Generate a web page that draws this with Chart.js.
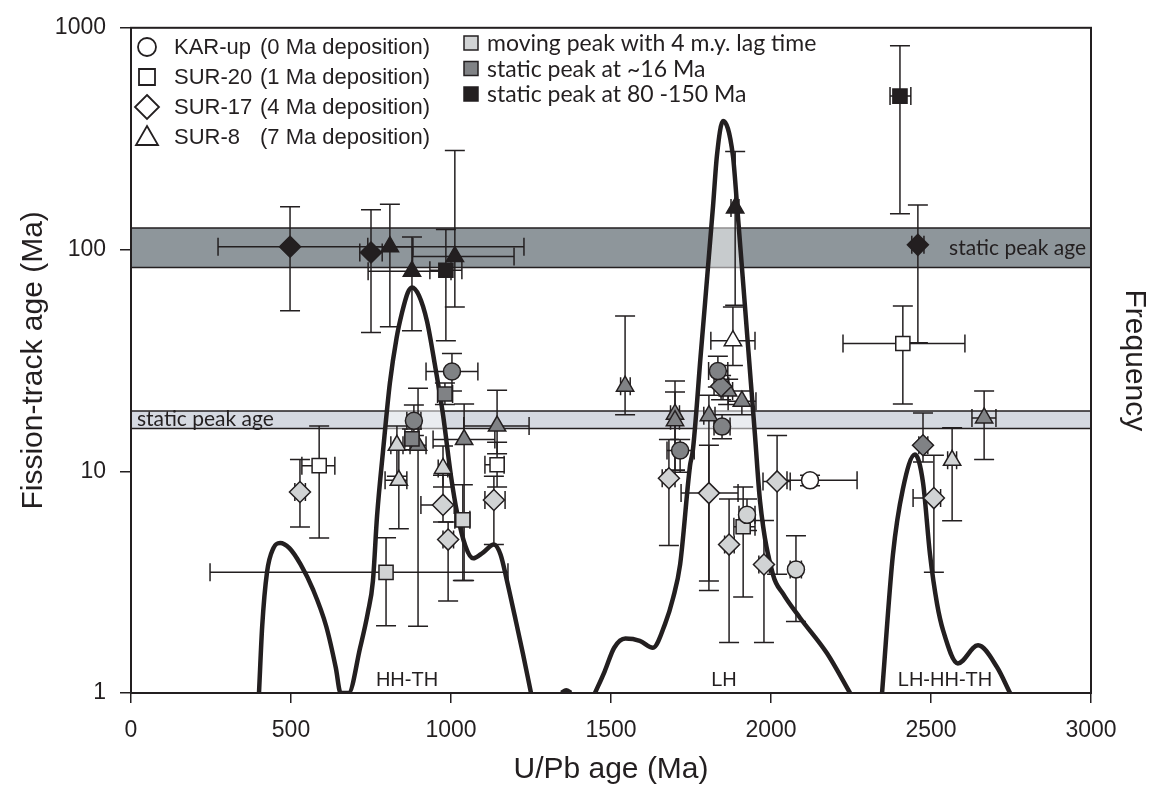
<!DOCTYPE html>
<html>
<head>
<meta charset="utf-8">
<script src="https://cdn.jsdelivr.net/npm/chart.js@4.4.1/dist/chart.umd.min.js"></script>
<style>
  html, body { margin: 0; padding: 0; background: #fff; }
  #wrap { width: 1162px; height: 811px; position: relative; }
</style>
</head>
<body>
<div id="wrap"><canvas id="chart"></canvas></div>
<script>
// ---------------------------------------------
// DATA
// ---------------------------------------------
const xTickLabels = ['0', '500', '1000', '1500', '2000', '2500', '3000'];
const yTicks = [1, 10, 100, 1000];
const yTickLabels = ['1', '10', '100', '1000'];

// static peak bands (fission-track age, Ma)
const bandLight = [15.6, 18.7];
const bandDark = [83, 125];

// U/Pb probability curve, null = gap
const curveAge = [400, 410, 425, 445, 466, 495, 530, 570, 610, 640, 655, 680, 716, 740, 756, 769, 788, 809, 830, 847, 865, 878, 900, 925, 950, 975, 1000, 1019, 1045, 1069, 1100, 1134, 1155, 1175, 1200, 1225, 1250,
  1300,
  1345, 1360, 1375,
  1400,
  1450, 1480, 1510, 1545, 1590, 1631, 1669, 1694, 1716, 1747, 1756, 1780, 1819, 1831, 1850, 1881, 1894, 1930, 1950, 1966, 2006, 2038, 2091, 2175, 2247,
  2300,
  2347, 2381, 2412, 2450, 2475, 2497, 2519, 2538, 2584, 2647, 2706, 2747];
const curveFreq = [1, 2, 3.5, 4.5, 4.75, 4.5, 3.8, 2.9, 2.0, 1.3, 1, 1, 1.6, 2.3, 3.2, 6.3, 12.5, 25, 40, 52, 64, 67.5, 62, 47.5, 30, 18, 9.5, 6.5, 4.6, 4.05, 4.3, 4.67, 4.2, 3.2, 2.2, 1.5, 1,
  null,
  1, 1.03, 1,
  null,
  1, 1.25, 1.6, 1.76, 1.72, 1.6, 2.05, 2.68, 3.8, 10.6, 12.5, 33, 158, 265, 380, 265, 158, 34, 14.5, 7.27, 3.43, 2.8, 2.18, 1.51, 1,
  null,
  1, 4.2, 8.3, 11.9, 8.9, 4.2, 2.52, 1.91, 1.36, 1.64, 1.31, 1];

// rows: [U/Pb age, age lo, age hi, FT age, FT lo, FT hi, group]
// group: 0 none, 1 moving peak, 2 static ~16 Ma, 3 static 80-150 Ma
const karUp = [
  [1003, 922, 1084, 28.2, 23, 34, 2],
  [884, 862, 906, 16.9, 14.5, 19.9, 2],
  [1834, 1805, 1865, 28.3, 24, 33, 2],
  [1847, 1822, 1872, 15.9, 14, 18, 2],
  [1716, 1675, 1760, 12.4, 9.9, 13.9, 2],
  [1925, 1900, 1950, 6.36, 5.4, 7.5, 1],
  [2078, 2060, 2095, 3.61, 2.1, 5.12, 1],
  [2122, 2050, 2269, 9.1, 8.6, 9.6, 0],
];
const sur20 = [
  [984, 934, 1034, 80.6, 38.8, 123, 3],
  [2403, 2372, 2437, 492, 145, 831, 3],
  [981, 958, 1005, 22.3, 20, 25, 2],
  [878, 856, 900, 14.0, 12.5, 15.5, 2],
  [1037, 1012, 1059, 6.04, 3.22, 8.7, 1],
  [797, 247, 1178, 3.5, 2.01, 5.02, 1],
  [1913, 1884, 1950, 5.62, 2.71, 8.5, 1],
  [588, 534, 637, 10.6, 5.0, 16.0, 0],
  [1144, 1106, 1166, 10.7, 8.5, 13.5, 0],
  [2412, 2225, 2606, 37.7, 20.1, 55.7, 0],
];
const sur17 = [
  [497, 272, 1228, 103, 52.9, 156, 3],
  [750, 715, 785, 97, 42.2, 151, 3],
  [2459, 2440, 2478, 105, 38, 159, 3],
  [2475, 2462, 2490, 13.1, 11, 18.3, 2],
  [1844, 1822, 1868, 24.2, 21, 27, 2],
  [528, 512, 545, 8.06, 5.6, 11.3, 1],
  [975, 906, 1010, 7.05, 5.9, 9.6, 1],
  [991, 975, 1008, 4.92, 2.6, 5.9, 1],
  [1134, 1106, 1169, 7.42, 4.67, 9.5, 1],
  [1681, 1660, 1700, 9.3, 4.63, 13.9, 1],
  [1806, 1719, 1897, 7.97, 2.9, 13.1, 1],
  [1869, 1855, 1885, 4.67, 1.69, 7.5, 1],
  [1978, 1962, 1995, 3.8, 1.69, 6.0, 1],
  [2019, 1975, 2060, 9.0, 3.43, 14.5, 1],
  [2509, 2444, 2530, 7.57, 3.5, 11.8, 1],
];
const sur8 = [
  [809, 740, 881, 103, 44.9, 160, 3],
  [878, 741, 1000, 79.8, 43, 114, 3],
  [1012, 880, 1197, 93, 55, 280, 3],
  [897, 872, 922, 13.1, 2.0, 23.7, 2],
  [1041, 944, 1137, 13.9, 3.22, 20.1, 2],
  [1144, 1040, 1244, 16.0, 12, 23.2, 2],
  [831, 812, 850, 13.1, 9.5, 16, 1],
  [837, 794, 862, 9.1, 5.5, 12.5, 1],
  [975, 960, 990, 10.3, 8.5, 13, 1],
  [1544, 1530, 1560, 24.2, 18.0, 50.2, 2],
  [1700, 1686, 1714, 18.1, 10.1, 25.5, 2],
  [1700, 1686, 1714, 16.9, 10.1, 22.8, 2],
  [1806, 1790, 1825, 17.8, 3.2, 22, 2],
  [1866, 1850, 1880, 23.0, 20, 26, 2],
  [1909, 1866, 1953, 20.7, 18, 23, 2],
  [1881, 1812, 1950, 38.8, 30, 55, 0],
  [1888, 1875, 1900, 154, 56, 277, 3],
  [2566, 2552, 2580, 11.2, 5.98, 15.7, 1],
  [2666, 2628, 2703, 17.4, 11.3, 23.0, 2],
];

const groupFill = ['#ffffff', '#d1d3d4', '#808285', '#231f20'];
const INK = '#231f20';
const FONT = '"Liberation Sans", Arial, sans-serif';

// =============================================
// PLUGINS
// =============================================
const bandsPlugin = {
    id: 'bands',
    beforeDatasetsDraw(chart) {
        const { ctx, chartArea: a, scales: { y } } = chart;
        ctx.save();
        [[bandLight, '#d5d9e1'], [bandDark, '#8e969b']].forEach(([b, col]) => {
            const top = y.getPixelForValue(b[1]);
            const bot = y.getPixelForValue(b[0]);
            ctx.fillStyle = col;
            ctx.fillRect(a.left, top, a.right - a.left, bot - top);
            ctx.strokeStyle = INK;
            ctx.lineWidth = 1.5;
            ctx.beginPath();
            ctx.moveTo(a.left, top); ctx.lineTo(a.right, top);
            ctx.moveTo(a.left, bot); ctx.lineTo(a.right, bot);
            ctx.stroke();
        });
        ctx.fillStyle = INK;
        ctx.font = '21px Lato, ' + FONT;
        ctx.textBaseline = 'middle';
        ctx.textAlign = 'left';
        ctx.fillText('static peak age', a.left + 6, y.getPixelForValue(Math.sqrt(bandLight[0] * bandLight[1])));
        ctx.textAlign = 'right';
        ctx.fillText('static peak age', a.right - 5, y.getPixelForValue(Math.sqrt(bandDark[0] * bandDark[1])));
        ctx.restore();
    },
};

const errorBarPlugin = {
    id: 'errorBars',
    afterDatasetDraw(chart, args) {
        if (args.index !== 0) return; // right after the curve, under the markers
        const { ctx, chartArea: a, scales: { x, y } } = chart;
        ctx.save();
        ctx.beginPath();
        ctx.rect(a.left, a.top, a.right - a.left, a.bottom - a.top);
        ctx.clip();
        ctx.strokeStyle = INK;
        ctx.lineWidth = 1.5;
        [karUp, sur20, sur17, sur8].forEach(rows => rows.forEach(r => {
            const px = x.getPixelForValue(r[0]);
            const py = y.getPixelForValue(r[3]);
            const x1 = x.getPixelForValue(r[1]), x2 = x.getPixelForValue(r[2]);
            const y1 = y.getPixelForValue(r[4]), y2 = y.getPixelForValue(r[5]);
            ctx.beginPath();
            ctx.moveTo(x1, py); ctx.lineTo(x2, py);
            ctx.moveTo(x1, py - 9); ctx.lineTo(x1, py + 9);
            ctx.moveTo(x2, py - 9); ctx.lineTo(x2, py + 9);
            ctx.moveTo(px, y1); ctx.lineTo(px, y2);
            ctx.moveTo(px - 10, y1); ctx.lineTo(px + 10, y1);
            ctx.moveTo(px - 10, y2); ctx.lineTo(px + 10, y2);
            ctx.stroke();
        }));
        ctx.restore();
    },
};

function drawSymbol(ctx, shape, cx, cy, fill) {
    ctx.beginPath();
    if (shape === 'circle') ctx.arc(cx, cy, 9, 0, Math.PI * 2);
    if (shape === 'rect') ctx.rect(cx - 8, cy - 8, 16, 16);
    if (shape === 'rectRot') { ctx.moveTo(cx, cy - 12); ctx.lineTo(cx + 12, cy); ctx.lineTo(cx, cy + 12); ctx.lineTo(cx - 12, cy); ctx.closePath(); }
    if (shape === 'triangle') { ctx.moveTo(cx, cy - 11); ctx.lineTo(cx + 11, cy + 8); ctx.lineTo(cx - 11, cy + 8); ctx.closePath(); }
    ctx.fillStyle = fill;
    ctx.fill();
    ctx.stroke();
}

const legendPlugin = {
    id: 'legendText',
    afterDraw(chart) {
        const { ctx, chartArea: a } = chart;
        ctx.save();
        ctx.strokeStyle = INK;
        ctx.lineWidth = 2;
        ctx.strokeRect(a.left, a.top, a.right - a.left, a.bottom - a.top);

        // sample legend
        const samples = [
            ['circle', 'KAR-up', '(0 Ma deposition)'],
            ['rect', 'SUR-20', '(1 Ma deposition)'],
            ['rectRot', 'SUR-17', '(4 Ma deposition)'],
            ['triangle', 'SUR-8', '(7 Ma deposition)'],
        ];
        ctx.textBaseline = 'middle';
        ctx.textAlign = 'left';
        ctx.font = '22px ' + FONT;
        samples.forEach((s, i) => {
            const cy = 47 + i * 30;
            ctx.lineWidth = 1.8;
            ctx.strokeStyle = INK;
            drawSymbol(ctx, s[0], 147, cy, '#ffffff');
            ctx.fillStyle = INK;
            ctx.fillText(s[1], 174, cy + 1);
            ctx.fillText(s[2], 260, cy + 1);
        });

        // peak legend
        const peaks = ['moving peak with 4 m.y. lag time', 'static peak at ~16 Ma', 'static peak at 80 -150 Ma'];
        ctx.font = '23px Lato, ' + FONT;
        peaks.forEach((t, i) => {
            const cy = 43 + i * 25.5;
            ctx.fillStyle = groupFill[i + 1];
            ctx.lineWidth = 1.5;
            ctx.fillRect(464, cy - 7, 14, 14);
            ctx.strokeRect(464, cy - 7, 14, 14);
            ctx.fillStyle = INK;
            ctx.fillText(t, 487, cy + 1);
        });

        // provenance labels
        ctx.font = '20px ' + FONT;
        ctx.textAlign = 'center';
        ctx.fillText('HH-TH', 407, 680);
        ctx.fillText('LH', 724, 680);
        ctx.fillText('LH-HH-TH', 945, 680);
        ctx.restore();
    },
};

// =============================================
// CHART
// =============================================
const shapes = [['circle', 8.5, karUp], ['rect', 10, sur20], ['rectRot', 10.5, sur17], ['triangle', 10, sur8]];

new Chart(document.getElementById('chart'), {
    data: {
        datasets: [
            {
                type: 'line',
                data: curveAge.map((a, i) => ({ x: a, y: curveFreq[i] })),
                yAxisID: 'y2',
                borderColor: INK,
                borderWidth: 4.5,
                pointRadius: 0,
                cubicInterpolationMode: 'monotone',
                spanGaps: false,
                fill: 'start',
                backgroundColor: 'rgba(255,255,255,0.5)',
                order: 10,
            },
            ...shapes.map(([style, r, rows]) => ({
                type: 'scatter',
                data: rows.map(row => ({ x: row[0], y: row[3] })),
                yAxisID: 'y',
                pointStyle: style,
                pointRadius: r,
                pointHoverRadius: r,
                pointBackgroundColor: rows.map(row => groupFill[row[6]]),
                pointBorderColor: INK,
                pointBorderWidth: 1.5,
                order: 1,
            })),
        ],
    },
    options: {
        responsive: true,
        maintainAspectRatio: false,
        animation: false,
        layout: { padding: { top: 21, left: 0, right: 0, bottom: 0 } },
        plugins: { legend: { display: false }, tooltip: { enabled: false } },
        scales: {
            x: {
                type: 'linear',
                min: 0, max: 3000,
                afterFit: s => { s.height = 118; },
                ticks: { stepSize: 500, color: INK, padding: 14, font: { family: FONT, size: 23 }, callback: (v, i) => xTickLabels[i] },
                grid: { drawOnChartArea: false, tickLength: 10, color: INK, lineWidth: 1.5 },
                border: { color: INK, width: 2 },
                title: { display: true, text: 'U/Pb age (Ma)', color: INK, font: { family: FONT, size: 30 }, padding: { top: 0, bottom: 23 } },
            },
            y: {
                type: 'logarithmic',
                min: 1, max: 1000,
                afterFit: s => { s.width = 131; },
                afterBuildTicks: s => { s.ticks = yTicks.map(v => ({ value: v, major: true })); },
                ticks: { color: INK, padding: 14, font: { family: FONT, size: 23 }, callback: (v, i) => yTickLabels[i] },
                grid: { drawOnChartArea: false, tickLength: 11, color: INK, lineWidth: 1.5 },
                border: { color: INK, width: 2 },
                title: { display: true, text: 'Fission-track age (Ma)', color: INK, font: { family: FONT, size: 30 }, padding: { top: 16, bottom: 0 } },
            },
            y2: {
                type: 'logarithmic',
                position: 'right',
                min: 1, max: 1000,
                afterFit: s => { s.width = 71; },
                ticks: { display: false },
                grid: { display: false },
                border: { color: INK, width: 2 },
                title: { display: true, text: 'Frequency', color: INK, font: { family: FONT, size: 30 }, padding: { top: 10, bottom: 0 } },
            },
        },
    },
    plugins: [bandsPlugin, errorBarPlugin, legendPlugin],
});
</script>
</body>
</html>
